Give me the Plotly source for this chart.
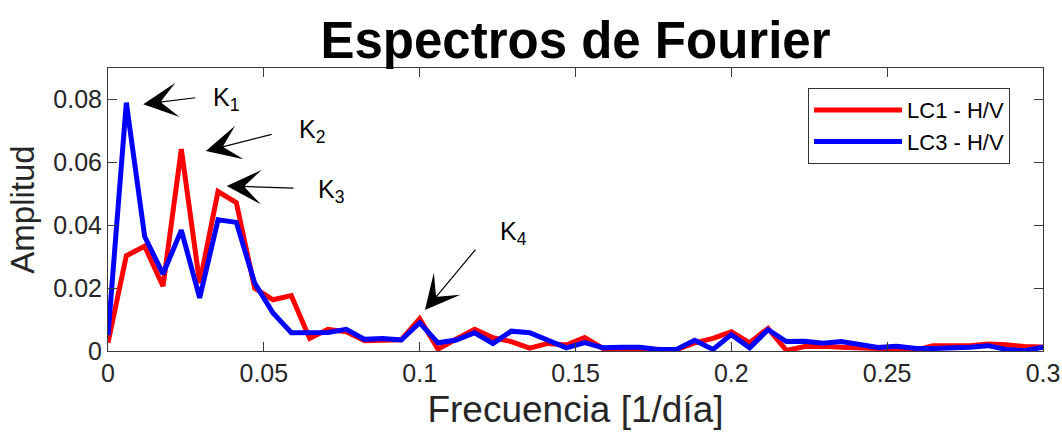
import plotly.graph_objects as go

# Frequency grid: resolution of 1/170 day^-1, 52 bins up to 0.3
freq = [k / 170 for k in range(52)]

amp_lc1 = [0.0026, 0.0303, 0.0333, 0.0206, 0.0642, 0.0216, 0.0507, 0.0472, 0.0200, 0.0163,
           0.0176, 0.0040, 0.0069, 0.0061, 0.0033, 0.0033, 0.0036, 0.0103, 0.0006, 0.0038,
           0.0069, 0.0042, 0.0030, 0.0009, 0.0024, 0.0019, 0.0043, 0.0008, 0.0004, 0.0006,
           0.0005, 0.0004, 0.0026, 0.0040, 0.0061, 0.0026, 0.0072, 0.0002, 0.0014, 0.0015,
           0.0012, 0.0011, 0.0008, 0.0005, 0.0002, 0.0017, 0.0017, 0.0017, 0.0022, 0.0020,
           0.0014, 0.0013]

amp_lc3 = [0.0050, 0.0790, 0.0364, 0.0245, 0.0384, 0.0169, 0.0417, 0.0409, 0.0216, 0.0121,
           0.0058, 0.0059, 0.0059, 0.0069, 0.0037, 0.0040, 0.0035, 0.0090, 0.0026, 0.0035,
           0.0058, 0.0024, 0.0063, 0.0058, 0.0032, 0.0010, 0.0027, 0.0010, 0.0012, 0.0012,
           0.0005, 0.0005, 0.0034, 0.0005, 0.0052, 0.0010, 0.0068, 0.0030, 0.0031, 0.0025,
           0.0030, 0.0020, 0.0011, 0.0015, 0.0009, 0.0008, 0.0008, 0.0012, 0.0017, 0.0005,
           0.0001, 0.0012]

series_names = ["LC1 - H/V", "LC3 - H/V"]

x_ticks = [0, 0.05, 0.1, 0.15, 0.2, 0.25, 0.3]
x_tick_labels = ["0", "0.05", "0.1", "0.15", "0.2", "0.25", "0.3"]
y_ticks = [0, 0.02, 0.04, 0.06, 0.08]
y_tick_labels = ["0", "0.02", "0.04", "0.06", "0.08"]

# Peak labels: (name, arrow tip x, tip y, tail x, tail y, label x, label y)
peaks = [
    ("K<sub>1</sub>", 0.0113, 0.0785, 0.0285, 0.0806, 0.0330, 0.0800),
    ("K<sub>2</sub>", 0.0314, 0.0636, 0.0530, 0.0690, 0.0605, 0.0700),
    ("K<sub>3</sub>", 0.0381, 0.0525, 0.0600, 0.0518, 0.0668, 0.0510),
    ("K<sub>4</sub>", 0.1017, 0.0130, 0.1183, 0.0327, 0.1252, 0.0375),
]

FONT = "Liberation Sans, Arial, Helvetica, sans-serif"
AXIS_COLOR = "#3a3a3a"

fig = go.Figure()
fig.add_trace(go.Scatter(x=freq, y=amp_lc1, mode="lines", name=series_names[0],
                         line=dict(color="#ff0000", width=5)))
fig.add_trace(go.Scatter(x=freq, y=amp_lc3, mode="lines", name=series_names[1],
                         line=dict(color="#0000ff", width=5)))

for label, hx, hy, tx, ty, lx, ly in peaks:
    fig.add_annotation(x=hx, y=hy, ax=tx, ay=ty, xref="x", yref="y", axref="x", ayref="y",
                       text="", showarrow=True, arrowhead=3, arrowsize=4.8, arrowwidth=1.2,
                       arrowcolor="black", standoff=0, startstandoff=0)
    fig.add_annotation(x=lx, y=ly, xref="x", yref="y", text=label, showarrow=False,
                       xanchor="left", yanchor="middle",
                       font=dict(family=FONT, size=25, color="black"))

axis_common = dict(showline=True, linecolor=AXIS_COLOR, linewidth=1, mirror="allticks",
                   ticks="inside", ticklen=9, tickwidth=1, tickcolor=AXIS_COLOR,
                   showgrid=False, zeroline=False, automargin=False,
                   tickfont=dict(family=FONT, size=25, color="#262626"))

fig.update_xaxes(range=[0, 0.3], tickvals=x_ticks, ticktext=x_tick_labels,
                 title=dict(text="Frecuencia [1/día]", standoff=10,
                            font=dict(family=FONT, size=37, color="#262626")),
                 **axis_common)
fig.update_yaxes(range=[0, 0.09], tickvals=y_ticks, ticktext=y_tick_labels,
                 title=dict(text="Amplitud", standoff=8,
                            font=dict(family=FONT, size=33, color="#262626")),
                 **axis_common)

fig.update_layout(
    width=1062, height=435,
    margin=dict(l=108, r=19, t=68, b=84),
    paper_bgcolor="white", plot_bgcolor="white",
    title=dict(text="<b>Espectros de Fourier</b>", x=0.5419, xanchor="center",
               y=0.948, yanchor="top",
               font=dict(family=FONT, size=51, color="black")),
    legend=dict(x=0.7487, y=0.929, xanchor="left", yanchor="top",
                bgcolor="white", bordercolor="#333333", borderwidth=1,
                itemwidth=88,
                font=dict(family=FONT, size=22, color="black")),
    showlegend=True,
)

fig.write_html("out.html")
